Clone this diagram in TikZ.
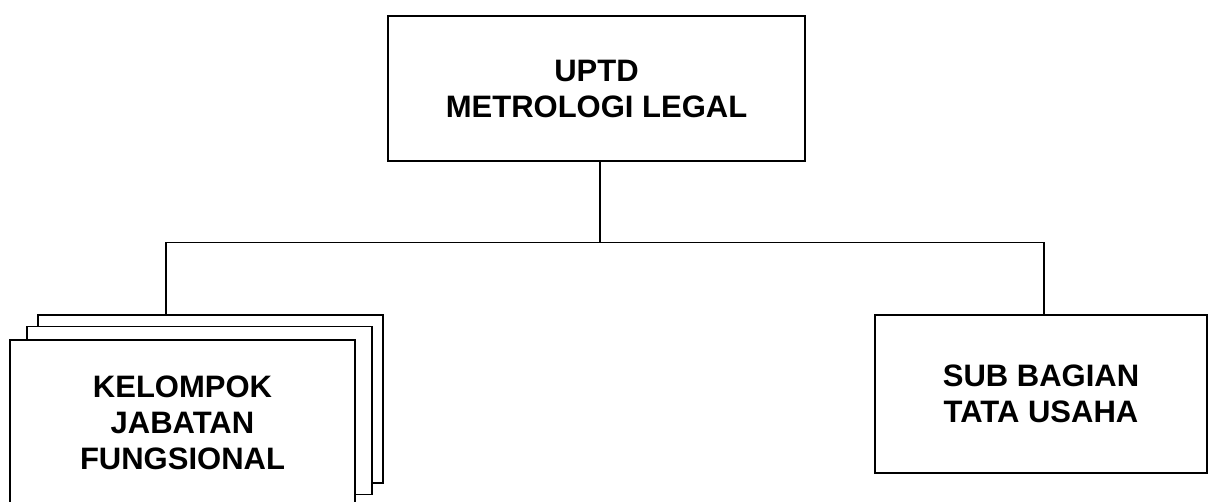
\documentclass[tikz,border=0pt]{standalone}
\usepackage{fontspec}
\setmainfont{Liberation Sans}
\usepackage{tikz}

\begin{document}
\begin{tikzpicture}[x=1pt,y=-1pt,
  unit/.style={draw,line width=1.6pt,fill=white,align=center,inner sep=0pt,
    font=\bfseries\fontsize{31}{36}\selectfont},
  link/.style={line width=1.3pt}]
\useasboundingbox (0,0) rectangle (1208,502);

\node[unit,minimum width=417pt,minimum height=145pt] (uptd) at (596.5,88.5) {UPTD\\METROLOGI LEGAL};

% stacked boxes, back to front
\node[unit,minimum width=345pt,minimum height=168pt] (kjfback) at (210.5,399) {};
\node[unit,minimum width=345pt,minimum height=168pt] (kjfmid) at (199.5,410.5) {};
\node[unit,minimum width=345pt,minimum height=166pt] (kjf) at (182.5,423) {KELOMPOK\\JABATAN\\FUNGSIONAL};

\node[unit,minimum width=332pt,minimum height=158pt] (tu) at (1041,394) {SUB BAGIAN\\TATA USAHA};

\draw[link] ([xshift=3.5pt]uptd.south) -- ++(0,81) coordinate (bus);
\draw[link] ([xshift=-44.5pt]kjfback.north) |- (bus) -| ([xshift=3pt]tu.north);
\end{tikzpicture}
\end{document}
